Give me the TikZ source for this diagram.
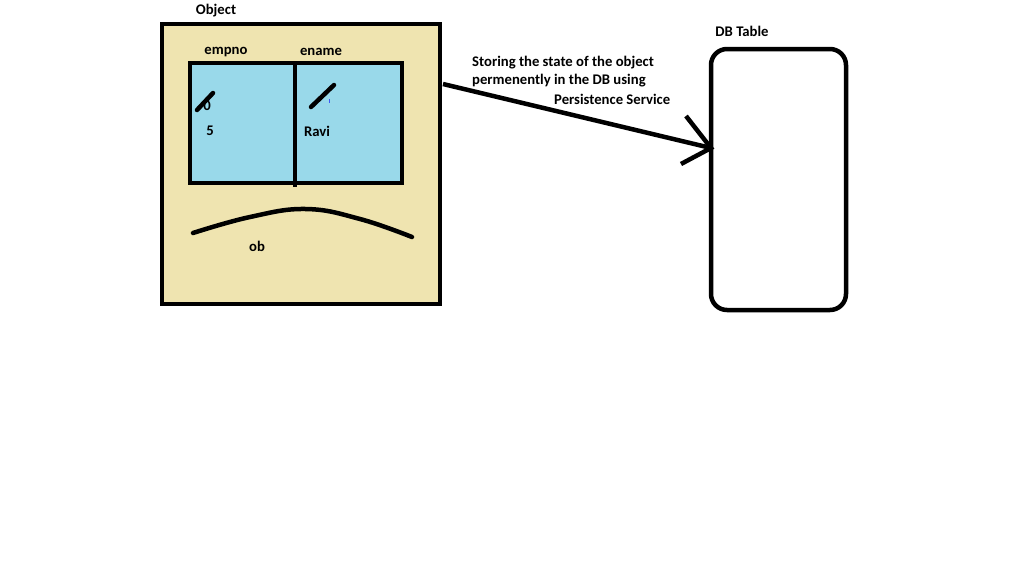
\documentclass[tikz,border=0pt]{standalone}
\usepackage{fontspec}
\setmainfont{Carlito}
\begin{document}
\begin{tikzpicture}[x=1pt,y=-1pt,
  ink/.style={line width=4.5pt,draw=black},
  lbl/.style={font=\fontsize{14.7}{17}\selectfont\bfseries,inner sep=0pt},
  lbll/.style={lbl,anchor=west}]
\definecolor{tan}{RGB}{239,228,176}
\definecolor{cellblue}{RGB}{153,217,234}
\useasboundingbox[fill=white] (0,0) rectangle (1018,587);
% object box
\node[ink,fill=tan,minimum width=278pt,minimum height=280pt,inner sep=0pt] (obj) at (301,164) {};
\node[lbl] (objlbl) at (216,11) {Object};
% fields
\node[ink,fill=cellblue,minimum width=212pt,minimum height=120pt,inner sep=0pt] (fields) at (296,123) {};
\draw[ink] (295,61) -- (295,187);
\node[lbl] (empno) at (226,52) {empno};
\node[lbl] (ename) at (321,52) {ename};
\node[lbl] (zero) at (207,106) {0};
\node[lbl] (five) at (210,131) {5};
\node[lbl] (ravi) at (317,131) {Ravi};
\draw[ink,line cap=round] (197,110) -- (213,93);
\draw[ink,line cap=round] (311,107) -- (334,85);
\draw[cellblue!40!blue,line width=1pt] (329,99) -- (329,103);
% reference arc
\draw[ink,line cap=round] plot[smooth,tension=0.7] coordinates {(193,233) (250,217) (306,209) (360,219) (412,237)};
\node[lbl] (ob) at (257,246) {ob};
% DB table
\node[ink,rounded corners=16pt,minimum width=135pt,minimum height=261pt,inner sep=0pt] (db) at (778.5,179.5) {};
\node[lbl] (dblbl) at (742,31) {DB Table};
% connector
\coordinate (a) at (443,84);
\coordinate (b) at (711,148);
\draw[ink] (a) -- (b);
\draw[ink] (686,116) -- (b) -- (681,164);
\node[lbll] (t1) at (472,63) {Storing the state of the object};
\node[lbll] (t2) at (472,81) {permenently in the DB using};
\node[lbll] (t3) at (554,99) {Persistence Service};
\end{tikzpicture}
\end{document}
